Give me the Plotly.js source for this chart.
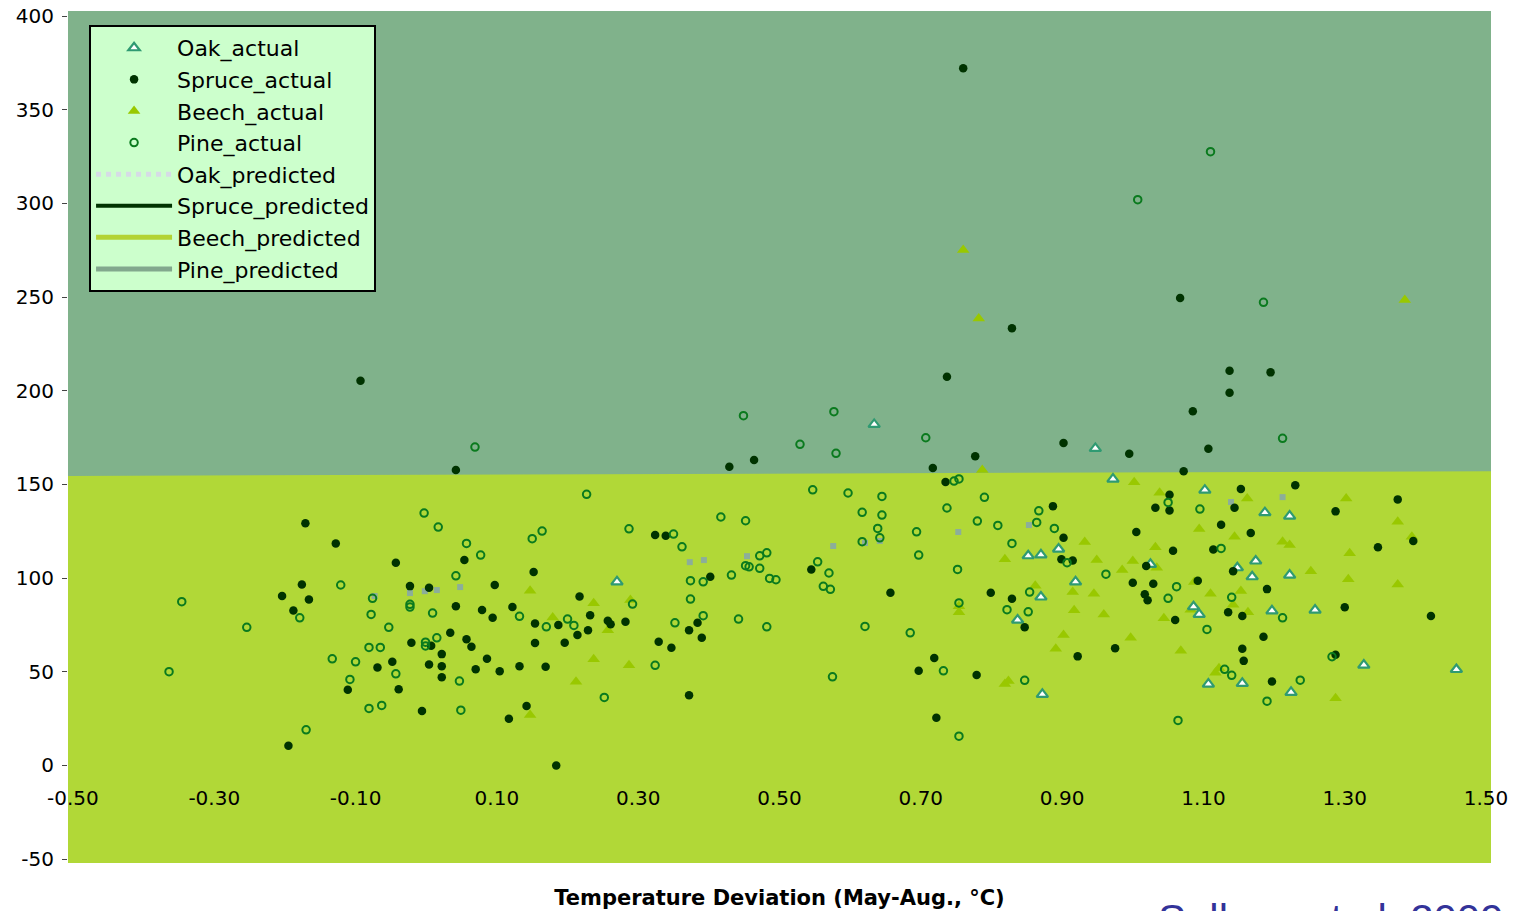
<!DOCTYPE html>
<html>
<head>
<meta charset="utf-8">
<script src="https://cdn.plot.ly/plotly-3.0.1.min.js"></script>
<style>html,body{margin:0;padding:0;background:#fff;}#chart{width:1524px;height:911px;}</style>
</head>
<body>
<div id="chart"></div>
<script>
// ---- Data (temperature deviation °C, damage value) ----
const oakX = [0.634,0.270,0.947,0.972,1.102,1.187,1.222,0.852,0.870,0.895,1.025,1.148,1.174,1.222,1.169,0.919,0.870,0.837,1.086,1.094,1.197,1.258,1.327,1.458,1.107,1.155,1.224,0.872];
const oakY = [182.0,98.0,169.2,152.8,146.9,134.9,133.1,111.9,112.4,115.5,107.3,105.5,109.1,101.6,100.7,98.0,89.9,77.6,84.7,80.6,82.5,82.9,53.5,51.2,43.4,43.8,39.0,37.9];

const spruceX = [-0.093,0.042,-0.171,-0.128,-0.043,0.054,-0.176,-0.204,-0.166,-0.188,-0.023,0.004,0.042,0.079,0.094,0.097,-0.021,0.007,0.034,0.057,0.064,0.022,-0.048,-0.069,0.004,0.022,0.086,0.070,0.104,0.022,-0.111,-0.039,-0.006,-0.195,
 0.737,0.429,0.464,0.717,0.735,0.324,0.339,0.152,0.402,0.545,0.657,0.122,0.217,0.154,0.187,0.232,0.257,0.261,0.282,0.229,0.214,0.154,0.196,0.132,0.169,0.329,0.347,0.372,0.384,0.390,0.372,0.142,0.117,0.184,0.719,0.697,0.722,
 1.137,1.085,0.902,0.777,0.995,1.107,1.072,1.230,1.153,1.052,1.032,1.052,1.144,1.375,1.287,0.887,1.125,1.167,1.005,0.902,1.057,1.114,1.347,1.397,1.422,1.300,1.190,1.142,1.019,1.000,1.029,1.017,1.021,1.092,0.899,0.915,0.799,0.829,0.847,1.060,1.135,1.155,1.185,1.155,1.157,1.197,1.287,0.975,0.922,0.779,
 0.760,0.829,1.067,1.137,1.195];
const spruceY = [205.3,157.7,129.2,118.5,108.2,109.6,96.6,90.4,88.6,82.7,95.7,94.8,84.9,82.9,78.8,96.3,65.5,63.9,70.8,67.3,63.3,59.4,55.3,52.3,53.9,52.9,56.9,51.3,50.3,47.0,40.4,40.6,29.0,10.5,
 207.5,159.4,163.0,158.7,151.3,123.0,122.6,103.2,100.7,104.6,92.2,84.5,90.2,75.8,74.9,80.2,77.2,75.3,76.7,72.2,69.6,65.3,65.5,52.9,52.7,66.0,62.8,72.2,76.1,68.1,37.5,31.7,24.9,0.0,57.3,50.5,25.4,
 198.9,189.0,172.1,165.0,166.4,169.0,157.0,149.5,147.5,144.5,137.5,136.1,137.5,142.0,135.6,138.4,128.5,124.0,124.6,121.5,114.6,115.3,116.4,119.8,79.7,84.4,94.1,103.7,106.4,97.5,97.0,91.3,88.1,98.6,110.1,109.4,92.2,89.0,73.7,77.6,81.7,79.7,68.7,62.3,55.8,44.8,59.1,62.5,58.2,48.2,
 372.1,233.3,249.5,210.7,209.8];

const beechX = [0.147,0.237,0.179,0.289,0.257,0.237,0.287,0.212,0.147,0.754,0.754,0.787,1.002,1.038,1.162,1.302,1.094,1.144,1.212,1.222,1.375,1.395,1.307,0.932,0.819,0.949,1.000,1.032,1.034,0.985,1.252,1.305,1.375,0.862,0.915,0.945,1.087,1.110,1.153,1.082,1.142,1.163,0.917,0.959,1.044,0.902,0.997,0.891,1.068,1.117,1.122,0.819,0.824,1.287,1.385,0.760,0.782];
const beechY = [93.2,86.5,79.0,88.3,72.2,56.6,53.4,44.6,26.9,81.7,85.0,157.7,151.1,145.6,142.5,142.5,126.2,122.1,119.4,117.6,130.1,122.1,113.2,119.2,110.1,109.6,109.1,116.4,105.5,104.3,103.7,99.3,96.6,95.9,92.5,91.6,97.9,91.6,93.1,83.1,85.7,81.7,82.8,80.6,78.5,69.6,68.1,62.3,61.2,49.4,51.8,43.4,45.0,35.8,248.4,275.1,238.6];

const pineX = [-0.364,-0.346,-0.254,0.069,-0.003,0.017,0.057,0.077,0.042,-0.121,-0.076,-0.078,-0.179,-0.023,-0.023,0.009,-0.053,-0.081,-0.065,-0.001,-0.001,0.015,-0.133,-0.100,-0.108,-0.043,0.047,-0.081,-0.063,0.049,-0.170,
 0.449,0.577,0.529,0.580,0.707,0.227,0.547,0.597,0.645,0.617,0.645,0.639,0.642,0.617,0.694,0.697,0.737,0.747,0.754,0.780,0.150,0.164,0.287,0.350,0.362,0.417,0.452,0.472,0.482,0.452,0.457,0.472,0.432,0.374,0.392,0.374,0.392,0.486,0.495,0.554,0.570,0.562,0.572,0.442,0.482,0.352,0.292,0.132,0.170,0.200,0.209,0.324,0.252,0.575,0.621,0.685,0.732,0.754,0.752,0.754,
 0.790,0.809,0.829,0.867,0.864,0.889,0.907,0.962,1.050,1.095,1.125,1.062,1.050,1.140,0.854,0.822,0.852,1.212,1.105,1.130,1.140,1.237,1.190,0.847,1.282,1.064,
 1.110,1.007,1.185,1.212];
const pineY = [50.0,87.4,73.7,169.9,134.7,127.2,118.5,112.3,101.2,96.3,89.2,80.6,78.8,86.0,84.5,81.3,73.7,63.0,63.0,65.8,63.8,68.1,56.9,55.3,45.9,48.9,45.0,30.4,32.0,29.5,19.0,
 186.7,188.8,171.4,166.6,174.9,144.7,147.1,145.4,143.6,135.1,133.6,126.5,121.5,119.4,124.7,112.3,137.4,151.8,152.9,130.4,121.0,125.1,126.3,123.5,116.7,132.6,130.6,111.9,113.5,106.6,106.0,105.2,101.6,98.6,98.0,88.8,79.9,99.8,99.1,108.7,102.7,95.6,94.0,78.1,74.0,76.1,86.1,79.6,74.0,78.1,74.7,53.4,36.3,47.3,74.2,70.8,50.5,86.7,104.6,15.6,
 143.1,128.1,118.5,135.9,129.7,126.5,108.2,102.1,140.4,136.8,115.8,95.4,89.2,89.7,92.5,83.1,82.0,78.8,72.6,51.3,48.1,45.5,34.3,45.4,58.0,24.0,
 327.6,302.0,247.2,174.6];

// Oak_predicted: visible fragments of the dotted line
const oakPredX = [-0.073,-0.023,-0.002,0.015,0.048,0.373,0.393,0.454,0.576,0.621,0.642,0.753,0.853,1.139,1.212];
const oakPredY = [90.4,92.0,93.0,93.6,95.2,108.5,109.6,111.7,117.1,118.7,119.8,124.6,128.3,140.6,143.2];

// Beech/Pine predicted boundary (the wide predicted bands)
const predX = [-0.507, 1.507];
const beechPredTop = [154.5, 157.0];
const pinePredTop = [402.7, 402.7];

const xTickVals = [-0.5,-0.3,-0.1,0.1,0.3,0.5,0.7,0.9,1.1,1.3,1.5];
const xTickText = ['-0.50','-0.30','-0.10','0.10','0.30','0.50','0.70','0.90','1.10','1.30','1.50'];
const yTickVals = [-50,0,50,100,150,200,250,300,350,400];
const yTickText = ['-50','0','50','100','150','200','250','300','350','400'];

const Y_RANGE = [-52.1, 402.7];
const X_RANGE = [predX[0], predX[1]];

const traces = [];
// Pine predicted band (upper area)
traces.push({
  x: [predX[0], predX[1], predX[1], predX[0]],
  y: [beechPredTop[0], beechPredTop[1], pinePredTop[1], pinePredTop[0]],
  type: 'scatter', mode: 'lines', fill: 'toself', fillcolor: '#80b28b',
  line: {width: 0, color: '#80b28b'}, hoverinfo: 'skip', showlegend: false
});
// Oak predicted fragments
traces.push({
  x: oakPredX, y: oakPredY, type: 'scatter', mode: 'markers',
  marker: {symbol: 'square', size: 6, color: '#8cae9a'}, showlegend: false, hoverinfo: 'skip'
});
// Actual series
traces.push({
  name: 'Beech_actual', x: beechX, y: beechY, type: 'scatter', mode: 'markers', legendrank: 3,
  marker: {symbol: 'triangle-up', size: 11, color: '#99c800', line: {width: 0}}
});
traces.push({
  name: 'Oak_actual', x: oakX, y: oakY, type: 'scatter', mode: 'markers', legendrank: 1,
  marker: {symbol: 'triangle-up', size: 10, color: '#ffffff', line: {width: 2.2, color: '#2f9a72'}}
});
traces.push({
  name: 'Spruce_actual', x: spruceX, y: spruceY, type: 'scatter', mode: 'markers', legendrank: 2,
  marker: {symbol: 'circle', size: 8.5, color: '#003300', line: {width: 0}}
});
traces.push({
  name: 'Pine_actual', x: pineX, y: pineY, type: 'scatter', mode: 'markers', legendrank: 4,
  marker: {symbol: 'circle-open', size: 7.5, color: '#0a7a1e', line: {width: 2, color: '#0a7a1e'}}
});
// Legend entries for predicted lines
traces.push({name: 'Oak_predicted', x: [null], y: [null], type: 'scatter', mode: 'lines', legendrank: 5,
  line: {color: '#d6dbe6', width: 5, dash: 'dot'}});
traces.push({name: 'Spruce_predicted', x: [null], y: [null], type: 'scatter', mode: 'lines', legendrank: 6,
  line: {color: '#003300', width: 4}});
traces.push({name: 'Beech_predicted', x: [null], y: [null], type: 'scatter', mode: 'lines', legendrank: 7,
  line: {color: '#b3d334', width: 5}});
traces.push({name: 'Pine_predicted', x: [null], y: [null], type: 'scatter', mode: 'lines', legendrank: 8,
  line: {color: '#82a88d', width: 5}});

const layout = {
  width: 1524, height: 911,
  margin: {l: 68, r: 33, t: 11, b: 48, pad: 0},
  paper_bgcolor: '#ffffff',
  plot_bgcolor: '#b1d837',
  font: {family: 'DejaVu Sans, Verdana, sans-serif', color: '#000', size: 20},
  showlegend: true,
  legend: {
    x: 0.0148, y: 0.9836, xanchor: 'left', yanchor: 'top',
    bgcolor: '#ccffcc', bordercolor: '#000', borderwidth: 2,
    font: {family: 'DejaVu Sans, Verdana, sans-serif', size: 22, color: '#000'},
    itemwidth: 76, traceorder: 'normal', tracegroupgap: 0
  },
  xaxis: {
    range: X_RANGE, anchor: 'free', position: (0 - Y_RANGE[0]) / (Y_RANGE[1] - Y_RANGE[0]),
    tickmode: 'array', tickvals: xTickVals, ticktext: xTickText,
    showgrid: false, zeroline: false, showline: false, ticks: '',
    ticklabelstandoff: 19,
    tickfont: {size: 20, color: '#000'},
    title: {text: 'Temperature Deviation (May-Aug., °C)', standoff: 80,
      font: {size: 21, color: '#000', weight: 700, family: 'DejaVu Sans, Verdana, sans-serif'}},
    automargin: false, fixedrange: true
  },
  yaxis: {
    range: Y_RANGE, tickmode: 'array', tickvals: yTickVals, ticktext: yTickText,
    showgrid: false, zeroline: false, showline: false,
    ticks: 'outside', ticklen: 5, tickwidth: 1, tickcolor: '#444',
    ticklabelstandoff: 4,
    tickfont: {size: 20, color: '#000'},
    automargin: false, fixedrange: true
  },
  annotations: [{
    text: 'Sallnas et al. 2009', xref: 'paper', yref: 'paper',
    x: 0.7646, y: -0.0365, xanchor: 'left', yanchor: 'top', showarrow: false,
    font: {family: 'Liberation Sans, Arial, sans-serif', size: 42, color: '#333399'}
  }]
};

Plotly.newPlot('chart', traces, layout, {displayModeBar: false, staticPlot: true});
</script>
</body>
</html>
